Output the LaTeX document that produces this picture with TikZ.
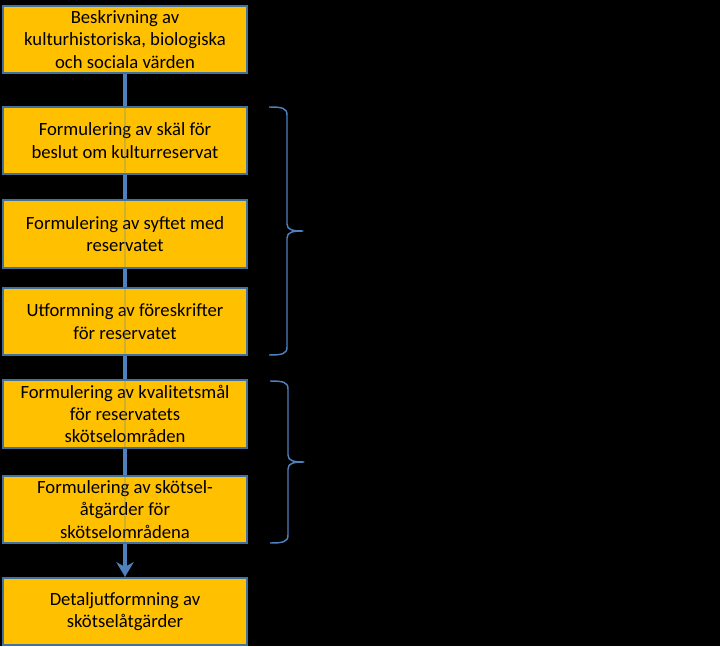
\documentclass[tikz,border=0pt]{standalone}
\usepackage{fontspec}
\setmainfont{Carlito}
\usetikzlibrary{arrows.meta}

\pgfdeclarelayer{behind}
\pgfdeclarelayer{flow}
\pgfsetlayers{behind,flow,main}

\tikzset{
  stepbox/.style={draw=kBorder, line width=1.5pt, fill=kYellow,
    minimum width=183pt, minimum height=50.5pt, inner sep=0pt,
    align=center, font=\fontsize{14}{16.8}\selectfont},
  flowline/.style={draw=kBlue, line width=2.4pt,
    -{Stealth[length=11pt,width=13pt,inset=3.5pt]}},
  bracket/.style={draw=kBlue, line width=1.1pt, line join=round},
}

\begin{document}
\begin{tikzpicture}[x=0.75pt,y=-0.75pt]
  \definecolor{kYellow}{RGB}{255,192,0}
  \definecolor{kBorder}{RGB}{65,113,156}
  \definecolor{kBlue}{RGB}{79,129,189}

  \begin{pgfonlayer}{behind}
    \fill[black] (0,0) rectangle (720,646);
  \end{pgfonlayer}

  \node[stepbox] (beskrivning) at (125,39.5)  {Beskrivning av\\kulturhistoriska, biologiska\\och sociala värden};
  \node[stepbox] (skal)        at (125,140.5) {Formulering av skäl för\\beslut om kulturreservat};
  \node[stepbox] (syfte)       at (125,234)   {Formulering av syftet med\\reservatet};
  \node[stepbox] (foreskr)     at (125,321.5) {Utformning av föreskrifter\\för reservatet};
  \node[stepbox] (kvalitet)    at (125,414)   {Formulering av kvalitetsmål\\för reservatets\\skötselområden};
  \node[stepbox] (atgarder)    at (125,509.5) {Formulering av skötsel-\\åtgärder för\\skötselområdena};
  \node[stepbox] (detalj)      at (125,611.5) {Detaljutformning av\\skötselåtgärder};

  % flow line behind the boxes, faint trace on top
  \begin{pgfonlayer}{flow}
    \draw[flowline] (beskrivning.south) -- (detalj.north);
  \end{pgfonlayer}
  \draw[kBlue, line width=2pt, draw opacity=0.25] (beskrivning.south) -- (detalj.north);

  % braces
  \foreach \t/\b/\x in {107/355/269, 381/543/270}
  {
    \pgfmathsetmacro\m{(\t+\b)/2}
    \draw[bracket] (\x,\t) .. controls (\x+13,\t) and (\x+18,\t+1) .. (\x+18,\t+8)
      -- (\x+18,\m-7) .. controls (\x+18,\m-1) and (\x+24,\m) .. (\x+34,\m)
      .. controls (\x+24,\m) and (\x+18,\m+1) .. (\x+18,\m+7)
      -- (\x+18,\b-8) .. controls (\x+18,\b-1) and (\x+13,\b) .. (\x,\b);
  }
\end{tikzpicture}
\end{document}
